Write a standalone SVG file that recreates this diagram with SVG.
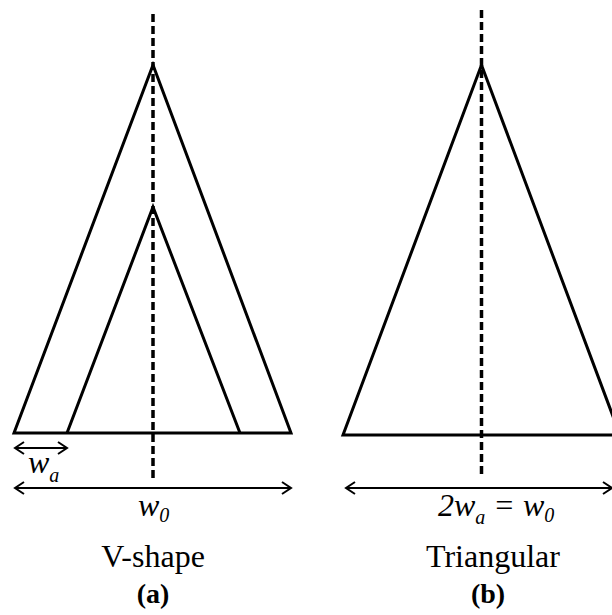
<svg xmlns="http://www.w3.org/2000/svg" width="612" height="615" viewBox="0 0 612 615">
<style>
.shape{fill:none;stroke:#000;stroke-width:3;stroke-linejoin:miter}
.axis{fill:none;stroke:#000;stroke-width:3.5;stroke-dasharray:8 4}
.dim{fill:none;stroke:#000;stroke-width:2;marker-start:url(#ah);marker-end:url(#ah)}
.lbl{font-family:"Liberation Serif","Times New Roman",serif;font-size:32px;fill:#000;text-anchor:middle}
.math{font-family:"Liberation Serif","Times New Roman",serif;font-size:32px;font-style:italic;fill:#000}
.sub{font-size:20px}
.cap{font-family:"Liberation Serif","Times New Roman",serif;font-size:28px;font-weight:bold;fill:#000;text-anchor:middle}
</style>
<defs>
<marker id="ah" viewBox="-10 -7 14 14" markerWidth="14" markerHeight="14" refX="0" refY="0" orient="auto-start-reverse" markerUnits="userSpaceOnUse">
<path d="M-9,-6 L0,0 L-9,6" fill="none" stroke="#000" stroke-width="2"/>
</marker>
</defs>
<rect width="612" height="615" fill="#fff"/>
<g id="vshape">
<path class="shape" d="M14,433 L153,65 L291,433 Z"/>
<path class="shape" d="M67,433 L153,207 L240,433"/>
</g>
<g id="triangular">
<path class="shape" d="M343,435 L481.5,65 L620,435 Z"/>
</g>
<g id="connectors">
<line class="axis" x1="153" y1="14" x2="153" y2="480"/>
<line class="axis" x1="481.5" y1="10" x2="481.5" y2="476"/>
<line class="dim" x1="15" y1="448" x2="67" y2="448"/>
<line class="dim" x1="15" y1="488" x2="291" y2="488"/>
<line class="dim" x1="346" y1="488" x2="612" y2="488"/>
</g>
<g id="labels">
<text class="math" x="28" y="473">w<tspan class="sub" dy="9">a</tspan></text>
<text class="math" x="138" y="516">w<tspan class="sub" dy="6">0</tspan></text>
<text class="lbl" x="153" y="567">V-shape</text>
<text class="cap" x="153" y="603">(a)</text>
<text class="math" x="438" y="516">2w<tspan class="sub" dy="8">a</tspan><tspan dy="-8"> = w</tspan><tspan class="sub" dy="6">0</tspan></text>
<text class="lbl" x="493" y="567">Triangular</text>
<text class="cap" x="488" y="603">(b)</text>
</g>
</svg>
